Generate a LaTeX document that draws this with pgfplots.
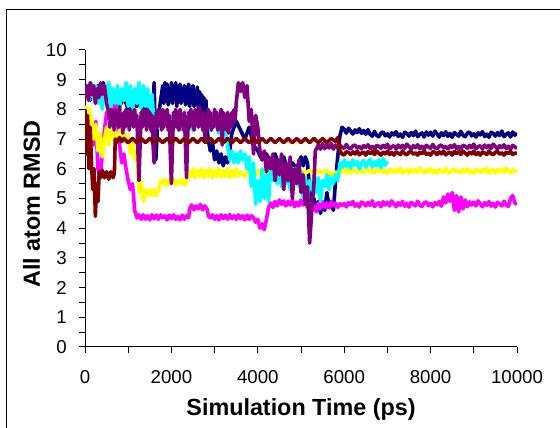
\documentclass[border=0pt]{standalone}
\usepackage{pgfplots}
\pgfplotsset{compat=1.18}
\usepackage{fontspec}
\setmainfont{Liberation Sans}

\definecolor{sNavy}{RGB}{0,0,128}
\definecolor{sMagenta}{RGB}{255,0,255}
\definecolor{sYellow}{RGB}{255,255,0}
\definecolor{sCyan}{RGB}{0,255,255}
\definecolor{sPurple}{RGB}{128,0,128}
\definecolor{sDarkRed}{RGB}{128,0,0}

\begin{document}
\begin{tikzpicture}[x=0.75pt,y=0.75pt]
\useasboundingbox (0,0) rectangle (560,428);
\clip (0,0) rectangle (560,428);
% chart frame
\draw[line width=0.75pt] (6,-5) -- (6,418.5) -- (565,418.5);
\begin{axis}[
  at={(63.75pt,60.75pt)}, anchor=south west,
  scale only axis, width=324pt, height=222.75pt,
  xmin=0, xmax=10000, ymin=0, ymax=10,
  axis lines=left,
  axis line style={-, line width=0.75pt, black},
  xtick={0,2000,...,10000}, minor xtick={1000,3000,...,9000},
  ytick={0,1,...,10}, minor ytick={0.5,1.5,...,9.5},
  tick align=outside, major tick length=4.5pt, minor tick length=4.5pt,
  tick style={black, line width=0.75pt},
  scaled x ticks=false,
  /pgf/number format/1000 sep={},
  /pgf/number format/assume math mode=true,
  tick label style={font=\fontsize{14}{16}\selectfont, black, inner sep=0pt},
  xticklabel style={anchor=north, yshift=-12.75pt},
  yticklabel style={anchor=east, xshift=-9pt},
  xlabel={Simulation Time (ps)},
  ylabel={All atom RMSD},
  label style={font=\bfseries\fontsize{17.5}{20}\selectfont, inner sep=0pt},
  xlabel style={at={(axis description cs:0.5,-0.2306)}, anchor=base},
  ylabel style={at={(axis description cs:-0.1042,0.4815)}, anchor=base},
  every axis plot/.append style={line width=2.7pt, line join=round, mark=none},
]
% series 1
\addplot[sNavy] coordinates {
(0,8.4)(60,8.7)(120,8.3)(180,8.8)(240,8.5)(300,8.8)(360,8.4)(420,8.9)(480,8.6)(540,8.8)
(600,8.2)(700,8.5)(800,8.1)(900,8.4)(1000,8.0)(1100,8.3)(1200,8.1)(1300,8.4)(1400,8.0)(1500,8.2)
(1560,7.2)(1600,8.9)(1640,6.3)(1680,7.5)(1740,8.2)
(1800,8.8)(1825,8.2)(1850,8.9)(1875,8.3)(1900,8.85)(1925,8.15)(1950,8.7)(1975,8.3)(2000,8.9)(2025,8.2)
(2050,8.8)(2075,8.35)(2100,8.9)(2125,8.1)(2150,8.75)(2175,8.25)(2200,8.85)(2225,8.2)(2250,8.7)(2275,8.3)
(2300,8.8)(2325,8.15)(2350,8.75)(2375,8.2)(2400,8.85)(2425,8.1)(2450,8.7)(2475,8.25)(2500,8.8)(2525,8.1)
(2550,8.6)(2575,8.2)(2600,8.75)(2625,8.0)(2650,8.6)(2675,8.1)(2700,8.5)(2725,7.9)(2750,8.4)(2775,7.6)
(2800,8.3)(2825,7.4)(2850,7.0)(2900,6.6)(2950,6.9)(3000,6.3)
(3050,6.6)(3100,6.2)(3150,6.5)(3200,6.1)(3250,6.4)(3300,6.2)(3350,6.6)(3400,7.2)(3500,7.6)(3600,7.3)
(3700,7.0)(3800,7.4)(3900,6.8)(4000,6.6)(4100,6.3)(4200,6.5)(4300,6.2)(4400,6.5)(4500,6.1)(4600,6.4)
(4700,5.9)(4800,6.2)(4900,6.0)(5000,6.4)(5050,6.1)(5100,6.4)(5150,6.2)(5200,5.3)(5250,4.7)(5300,5.0)
(5350,4.6)(5400,4.9)(5450,4.5)(5500,4.8)(5550,4.6)(5600,5.2)(5650,4.7)(5700,4.9)(5750,4.6)(5800,5.6)
(5850,6.4)(5900,7.1)(5950,7.4)
(6000,7.33)(6050,7.20)(6100,7.37)(6150,7.27)(6200,7.17)(6250,7.31)(6300,7.22)(6350,7.35)(6400,7.19)(6450,7.29)
(6500,7.16)(6550,7.32)(6600,7.16)(6650,7.10)(6700,7.26)(6750,7.13)(6800,7.08)(6850,7.20)(6900,7.24)(6950,7.11)
(7000,7.18)(7050,7.07)(7100,7.21)(7150,7.14)(7200,7.25)(7250,7.09)(7300,7.17)(7350,7.06)(7400,7.23)(7450,7.19)
(7500,7.10)(7550,7.22)(7600,7.12)(7650,7.27)(7700,7.08)(7750,7.16)(7800,7.21)(7850,7.07)(7900,7.24)(7950,7.13)
(8000,7.23)(8050,7.10)(8100,7.27)(8150,7.17)(8200,7.07)(8250,7.21)(8300,7.12)(8350,7.25)(8400,7.09)(8450,7.19)
(8500,7.06)(8550,7.22)(8600,7.16)(8650,7.10)(8700,7.26)(8750,7.13)(8800,7.08)(8850,7.20)(8900,7.24)(8950,7.11)
(9000,7.18)(9050,7.07)(9100,7.21)(9150,7.14)(9200,7.25)(9250,7.09)(9300,7.17)(9350,7.06)(9400,7.23)(9450,7.19)
(9500,7.10)(9550,7.22)(9600,7.12)(9650,7.27)(9700,7.08)(9750,7.16)(9800,7.21)(9850,7.07)(9900,7.24)(9950,7.13)
(10000,7.20)
};
% series 2
\addplot[sMagenta] coordinates {
(0,7.8)(50,6.6)(100,6.4)(150,7.2)(200,6.8)(250,7.6)(300,6.0)(350,5.7)(400,6.5)(450,7.3)
(500,7.9)(600,7.6)(700,8.2)(750,7.7)(800,6.8)(850,6.2)(900,6.5)(950,6.0)(1000,5.6)(1050,5.3)
(1100,5.5)(1150,4.6)(1200,4.35)(1250,4.45)(1300,4.3)(1350,4.45)(1400,4.3)(1450,4.42)(1500,4.28)(1550,4.45)
(1600,4.32)(1650,4.44)(1700,4.3)(1750,4.45)(1800,4.35)(1850,4.42)(1900,4.28)(1950,4.44)(2000,4.32)(2050,4.45)
(2100,4.3)(2150,4.4)(2200,4.28)(2250,4.44)(2300,4.3)(2350,4.42)(2400,4.35)(2420,4.65)(2470,4.78)(2520,4.62)
(2570,4.75)(2620,4.65)(2670,4.8)(2720,4.62)(2770,4.75)(2820,4.66)(2860,4.4)(2900,4.35)(2950,4.45)(3000,4.3)
(3050,4.42)(3100,4.28)(3150,4.45)(3200,4.32)(3250,4.44)(3300,4.3)(3350,4.46)(3400,4.32)(3450,4.42)(3500,4.3)
(3550,4.45)(3600,4.32)(3650,4.42)(3700,4.28)(3750,4.44)(3800,4.3)(3850,4.42)(3900,4.35)(3950,4.2)(4000,4.3)
(4050,4.0)(4100,4.15)(4150,3.95)(4200,4.3)(4250,4.7)(4300,4.85)(4350,4.7)(4400,4.9)(4450,4.75)(4500,4.95)
(4550,4.8)(4600,4.92)(4650,4.75)(4700,4.9)(4750,4.78)(4800,4.95)(4850,4.72)(4900,4.88)(4950,4.75)(5000,4.95)
(5050,4.78)(5100,4.9)(5150,4.7)(5200,4.85)(5250,4.6)(5300,4.75)(5350,4.55)(5400,4.85)(5450,4.65)(5500,4.9)
(5550,4.7)(5600,4.85)(5650,4.68)(5700,4.9)(5750,4.75)(5800,4.85)(5850,4.7)(5900,4.82)(5950,4.76)
(6000,4.83)(6050,4.72)(6100,4.86)(6150,4.79)(6200,4.90)(6250,4.74)(6300,4.82)(6350,4.71)(6400,4.88)(6450,4.84)
(6500,4.75)(6550,4.87)(6600,4.77)(6650,4.92)(6700,4.73)(6750,4.81)(6800,4.86)(6850,4.72)(6900,4.89)(6950,4.78)
(7000,4.88)(7050,4.75)(7100,4.92)(7150,4.82)(7200,4.72)(7250,4.86)(7300,4.77)(7350,4.90)(7400,4.74)(7450,4.84)
(7500,4.71)(7550,4.87)(7600,4.81)(7650,4.75)(7700,4.91)(7750,4.78)(7800,4.73)(7850,4.85)(7900,4.89)(7950,4.76)
(8000,4.83)(8050,4.72)(8100,4.86)(8150,4.79)(8200,4.90)(8250,4.74)(8300,5.05)(8350,4.85)(8400,5.15)(8450,4.90)
(8500,5.20)(8550,4.60)(8600,5.10)(8650,4.55)(8700,5.05)(8750,4.65)(8800,4.95)(8850,4.72)(8900,4.89)(8950,4.78)
(9000,4.88)(9050,4.75)(9100,4.92)(9150,4.82)(9200,4.72)(9250,4.86)(9300,4.77)(9350,4.90)(9400,4.74)(9450,4.84)
(9500,4.71)(9550,4.87)(9600,4.81)(9650,4.75)(9700,4.91)(9750,4.78)(9800,4.73)(9850,5.00)(9900,5.10)(9950,4.85)
(10000,4.80)
};
% series 3
\addplot[sYellow] coordinates {
(0,8.1)(100,8.0)(150,7.6)(200,7.0)(250,7.5)(300,6.6)(350,7.2)(400,6.4)(450,7.0)(500,7.4)
(550,6.8)(600,7.3)(650,7.0)(700,7.2)(750,6.9)(800,7.3)(850,7.0)(900,7.2)(950,6.9)(1000,7.1)
(1050,6.5)(1100,6.9)(1150,6.3)(1200,6.6)(1250,5.2)(1300,5.6)(1350,4.9)(1400,5.3)(1450,5.1)(1500,5.3)
(1550,5.1)(1600,5.3)(1650,5.1)(1700,5.25)(1750,5.6)(1800,5.5)(1850,5.65)(1900,5.45)(1950,5.6)(2000,5.5)
(2050,5.65)(2100,5.45)(2150,5.6)(2200,5.5)(2250,5.65)(2300,5.45)(2350,5.55)(2400,5.9)(2450,5.75)(2500,6.0)
(2550,5.7)(2600,5.95)(2650,5.75)(2700,6.0)(2750,5.7)(2800,5.95)(2850,5.75)(2900,6.0)(2950,5.7)(3000,5.95)
(3050,5.75)(3100,6.0)(3150,5.72)(3200,5.95)(3250,5.75)(3300,6.0)(3350,5.7)(3400,5.95)(3450,5.75)(3500,6.0)
(3550,5.75)(3600,5.9)(3700,5.75)(3800,6.0)(3900,5.7)(4000,5.95)(4100,5.75)(4200,5.95)(4300,5.8)(4400,5.95)
(4500,5.8)(4600,5.95)(4700,5.8)(4800,5.95)(4850,6.0)(4900,5.8)(5000,5.95)(5100,5.85)(5200,5.95)(5300,5.8)
(5400,5.95)(5500,5.85)(5600,5.95)(5700,5.8)(5800,5.9)(5900,5.8)(5950,5.94)
(6000,6.00)(6050,5.87)(6100,5.95)(6150,5.85)(6200,5.98)(6250,5.93)(6300,5.88)(6350,6.01)(6400,5.90)(6450,5.86)
(6500,5.96)(6550,5.99)(6600,5.89)(6650,5.94)(6700,5.86)(6750,5.97)(6800,5.91)(6850,6.00)(6900,5.87)(6950,5.94)
(7000,5.85)(7050,5.98)(7100,5.95)(7150,5.88)(7200,5.98)(7250,5.90)(7300,6.02)(7350,5.86)(7400,5.93)(7450,5.97)
(7500,5.86)(7550,5.99)(7600,5.90)(7650,5.98)(7700,5.88)(7750,6.02)(7800,5.94)(7850,5.86)(7900,5.97)(7950,5.90)
(8000,6.00)(8050,5.87)(8100,5.95)(8150,5.85)(8200,5.98)(8250,5.93)(8300,5.88)(8350,6.01)(8400,5.90)(8450,5.86)
(8500,5.96)(8550,5.99)(8600,5.89)(8650,5.94)(8700,5.86)(8750,5.97)(8800,5.91)(8850,6.00)(8900,5.87)(8950,5.94)
(9000,5.85)(9050,5.98)(9100,5.95)(9150,5.88)(9200,5.98)(9250,5.90)(9300,6.02)(9350,5.86)(9400,5.93)(9450,5.97)
(9500,5.86)(9550,5.99)(9600,5.90)(9650,5.98)(9700,5.88)(9750,6.02)(9800,5.94)(9850,5.86)(9900,5.97)(9950,5.90)
(10000,5.95)
};
% series 4
\addplot[sCyan] coordinates {
(0,8.5)(50,8.8)(100,8.3)(150,8.9)(200,8.4)(250,8.8)(300,8.2)(350,8.7)(400,8.0)(450,8.8)
(500,8.3)(550,8.9)(600,8.1)(650,8.7)(700,8.2)(750,8.8)(800,8.0)(850,8.7)(900,8.3)(950,8.9)
(1000,8.1)(1050,8.8)(1100,8.0)(1150,8.7)(1200,8.2)(1250,8.9)(1300,8.0)(1350,8.8)(1400,8.1)(1450,8.7)
(1500,7.7)(1550,8.5)(1600,7.5)(1650,7.9)(1700,7.4)(1750,7.8)(1800,7.4)(1850,7.9)(1900,7.5)(1950,7.8)
(2000,7.3)(2050,7.7)(2100,7.4)(2200,7.8)(2300,7.4)(2400,7.7)(2500,7.3)(2600,7.8)(2700,7.4)(2800,7.7)
(2900,7.3)(3000,7.6)(3100,7.2)(3200,7.5)(3300,6.8)(3350,6.3)(3400,6.6)(3450,6.2)(3500,6.5)(3550,6.2)
(3600,6.6)(3650,6.3)(3700,6.5)(3750,6.0)(3800,6.4)(3850,5.4)(3900,6.2)(3950,4.8)(4000,5.6)(4050,4.9)
(4100,6.0)(4150,5.0)(4200,5.8)(4250,4.9)(4300,6.2)(4350,5.6)(4400,6.0)(4450,5.5)(4500,5.9)(4550,5.4)
(4600,6.0)(4650,5.5)(4700,5.9)(4750,5.3)(4800,5.8)(4850,5.5)(4900,6.0)(4950,5.4)(5000,5.9)(5050,5.0)
(5100,5.7)(5150,4.9)(5200,5.6)(5250,5.3)(5300,5.8)(5350,5.2)(5400,5.7)(5450,4.9)(5500,5.6)(5550,5.4)
(5600,5.8)(5650,5.3)(5700,5.7)(5750,5.5)(5800,5.8)(5850,5.6)(5900,6.2)(5950,6.05)(6000,6.3)(6050,6.08)
(6100,6.22)(6150,6.02)(6200,6.3)(6250,6.12)(6300,6.25)(6350,6.0)(6400,6.18)(6450,6.28)(6500,6.06)(6550,6.2)
(6600,6.32)(6650,6.05)(6700,6.24)(6750,6.1)(6800,6.3)(6850,6.04)(6900,6.35)(6950,6.12)(7000,6.25)
};
% series 5
\addplot[sPurple] coordinates {
(0,8.4)(40,8.8)(80,8.3)(120,8.9)(160,8.5)(200,8.8)(240,8.2)(280,8.7)(320,8.4)(360,8.9)
(400,8.5)(450,8.8)(500,8.2)
(550,7.9)(575,7.4)(600,8.0)(625,7.5)(650,7.9)(675,7.3)(700,8.0)(725,7.5)(750,7.9)(775,7.4)
(800,8.1)(825,7.5)(850,7.8)(875,7.2)(900,7.9)(925,7.4)(950,8.0)(975,7.5)(1000,7.8)(1025,7.3)
(1050,8.0)(1075,7.5)(1100,7.9)(1125,7.4)(1150,8.0)(1175,7.5)(1200,7.8)(1225,6.6)(1250,5.6)(1275,6.8)
(1300,7.9)(1325,7.4)(1350,8.0)(1375,7.5)(1400,7.8)(1425,7.3)(1450,8.0)(1475,7.5)(1500,7.9)(1525,7.3)
(1550,7.8)(1575,6.8)(1600,6.2)(1625,7.2)(1650,7.9)(1675,7.4)(1700,8.0)(1725,7.5)(1750,7.8)(1775,7.3)
(1800,8.0)(1825,7.4)(1850,7.9)(1875,7.5)(1900,8.0)(1925,7.3)(1950,7.8)(1975,6.5)(2000,5.5)(2025,6.8)
(2050,7.9)(2075,7.5)(2100,8.0)(2125,7.4)(2150,7.9)(2175,7.3)(2200,8.0)(2225,7.5)(2250,7.8)(2275,7.3)
(2300,7.9)(2325,6.8)(2350,5.7)(2375,7.0)(2400,7.9)(2425,7.4)(2450,8.0)(2475,7.5)(2500,7.9)(2525,7.3)
(2550,8.0)(2575,7.5)(2600,7.9)(2625,7.4)(2650,8.1)(2675,7.5)(2700,7.8)(2725,7.3)(2750,7.9)(2775,6.9)
(2800,7.6)(2825,7.3)(2850,8.0)(2875,7.5)(2900,7.9)(2925,7.3)(2950,7.8)(2975,7.4)(3000,8.0)(3025,7.5)
(3050,7.9)(3075,7.3)(3100,7.8)(3125,7.4)(3150,8.0)(3175,6.8)(3200,7.9)(3225,7.4)(3250,7.8)(3275,7.3)
(3300,7.9)(3325,7.2)(3350,7.8)(3375,7.4)(3400,7.9)(3425,7.5)(3450,8.0)(3475,7.6)(3500,8.2)
(3550,8.9)(3600,8.6)(3650,8.9)(3700,8.4)(3750,8.8)(3800,7.6)(3850,8.0)
(3900,6.5)(3950,7.8)(4000,7.4)(4050,6.6)(4100,6.3)(4150,6.6)(4200,5.9)(4250,6.4)(4300,6.0)(4350,6.5)
(4400,5.6)(4450,6.3)(4500,5.8)(4550,6.5)(4600,5.3)(4650,6.2)(4700,5.6)(4750,6.4)(4800,5.0)(4850,6.0)
(4900,5.5)(4950,6.3)(5000,5.2)(5050,5.8)(5100,4.8)(5150,5.4)(5200,3.5)(5250,4.6)(5300,5.5)(5330,6.6)
(5400,6.8)(5450,6.66)(5500,6.85)(5550,6.68)(5600,6.8)(5650,6.7)(5700,6.85)(5750,6.66)(5800,6.8)(5850,6.7)
(5900,6.8)(5950,6.72)
(6000,6.69)(6050,6.82)(6100,6.71)(6150,6.67)(6200,6.77)(6250,6.80)(6300,6.70)(6350,6.75)(6400,6.67)(6450,6.78)
(6500,6.72)(6550,6.81)(6600,6.68)(6650,6.75)(6700,6.66)(6750,6.79)(6800,6.76)(6850,6.69)(6900,6.79)(6950,6.71)
(7000,6.83)(7050,6.67)(7100,6.74)(7150,6.78)(7200,6.67)(7250,6.80)(7300,6.71)(7350,6.79)(7400,6.69)(7450,6.83)
(7500,6.75)(7550,6.67)(7600,6.78)(7650,6.71)(7700,6.81)(7750,6.68)(7800,6.76)(7850,6.66)(7900,6.79)(7950,6.74)
(8000,6.69)(8050,6.82)(8100,6.71)(8150,6.67)(8200,6.77)(8250,6.80)(8300,6.70)(8350,6.75)(8400,6.67)(8450,6.78)
(8500,6.72)(8550,6.81)(8600,6.68)(8650,6.75)(8700,6.66)(8750,6.79)(8800,6.76)(8850,6.69)(8900,6.79)(8950,6.71)
(9000,6.83)(9050,6.67)(9100,6.74)(9150,6.78)(9200,6.67)(9250,6.80)(9300,6.71)(9350,6.79)(9400,6.69)(9450,6.83)
(9500,6.75)(9550,6.67)(9600,6.78)(9650,6.71)(9700,6.81)(9750,6.68)(9800,6.76)(9850,6.66)(9900,6.79)(9950,6.74)
(10000,6.69)
};
% series 6
\addplot[sDarkRed] coordinates {
(0,8.0)(30,6.5)(60,7.8)(90,6.0)(120,7.4)(150,6.2)(180,5.3)(210,6.0)(240,4.4)(270,5.5)
(300,4.9)(330,5.9)(360,5.7)(400,5.95)(450,5.7)(500,5.9)(550,5.65)(600,5.9)(650,5.7)(680,5.85)
(700,7.0)(750,6.9)(800,7.05)(850,6.92)(900,7.02)(1000,6.88)(1100,7.02)(1200,6.88)(1300,7.02)(1400,6.88)
(1500,7.02)(1600,6.88)(1700,7.02)(1800,6.88)(1900,7.02)(2000,6.88)(2100,7.02)(2200,6.88)(2300,7.02)(2400,6.88)
(2500,7.02)(2600,6.88)(2700,7.02)(2800,6.88)(2900,7.02)(3000,6.88)(3100,7.02)(3200,6.88)(3300,7.02)(3400,6.88)
(3500,7.02)(3600,6.88)(3700,7.02)(3800,6.88)(3900,7.02)(4000,6.88)(4100,7.02)(4200,6.88)(4300,7.02)(4400,6.88)
(4500,7.02)(4600,6.88)(4700,7.02)(4800,6.88)(4900,7.02)(5000,6.88)(5100,7.02)(5200,6.88)(5300,7.02)(5400,6.88)
(5500,7.02)(5600,6.88)(5700,7.02)(5800,6.92)(5850,7.05)(5900,6.6)(5950,6.5)
(6000,6.46)(6050,6.58)(6100,6.55)(6150,6.48)(6200,6.57)(6250,6.50)(6300,6.60)(6350,6.47)(6400,6.53)(6450,6.56)
(6500,6.46)(6550,6.58)(6600,6.51)(6650,6.58)(6700,6.48)(6750,6.60)(6800,6.53)(6850,6.46)(6900,6.56)(6950,6.50)
(7000,6.59)(7050,6.48)(7100,6.55)(7150,6.46)(7200,6.57)(7250,6.53)(7300,6.48)(7350,6.60)(7400,6.51)(7450,6.47)
(7500,6.56)(7550,6.58)(7600,6.49)(7650,6.54)(7700,6.46)(7750,6.56)(7800,6.51)(7850,6.59)(7900,6.48)(7950,6.53)
(8000,6.46)(8050,6.58)(8100,6.55)(8150,6.48)(8200,6.57)(8250,6.50)(8300,6.60)(8350,6.47)(8400,6.53)(8450,6.56)
(8500,6.46)(8550,6.58)(8600,6.51)(8650,6.58)(8700,6.48)(8750,6.60)(8800,6.53)(8850,6.46)(8900,6.56)(8950,6.50)
(9000,6.59)(9050,6.48)(9100,6.55)(9150,6.46)(9200,6.57)(9250,6.53)(9300,6.48)(9350,6.60)(9400,6.51)(9450,6.47)
(9500,6.56)(9550,6.58)(9600,6.49)(9650,6.54)(9700,6.46)(9750,6.56)(9800,6.51)(9850,6.59)(9900,6.48)(9950,6.53)
(10000,6.52)
};
\end{axis}
\end{tikzpicture}
\end{document}
